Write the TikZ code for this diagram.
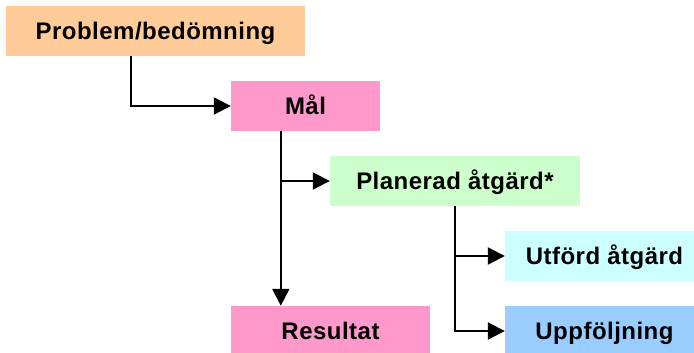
\documentclass[tikz,border=0pt]{standalone}
\usepackage{fontspec}
\setmainfont[LetterSpace=2]{Liberation Sans}
\usetikzlibrary{arrows.meta}
\definecolor{cprob}{HTML}{FFCC99}
\definecolor{cpink}{HTML}{FF99CC}
\definecolor{cgreen}{HTML}{CCFFCC}
\definecolor{ccyan}{HTML}{CCFFFF}
\definecolor{cblue}{HTML}{99CCFF}
\tikzset{
  boxnode/.style={rectangle, inner sep=0pt, text height=17pt, text depth=0pt,
    minimum height=50pt, font=\fontsize{24}{28}\selectfont\bfseries},
  conn/.style={line width=2pt, -{Triangle[length=17pt,width=17pt]}}
}
\begin{document}
\begin{tikzpicture}[x=1pt,y=-1pt]
\useasboundingbox (0,0) rectangle (694,353);
\clip (0,0) rectangle (694,353);
\node[boxnode, fill=cprob, minimum width=299pt] (prob) at (155.5,31) {Problem/bedömning};
\node[boxnode, fill=cpink, minimum width=149pt] (mal) at (305.5,106) {Mål};
\node[boxnode, fill=cgreen, minimum width=250pt] (plan) at (455,181) {Planerad åtgärd*};
\node[boxnode, fill=ccyan, minimum width=199pt] (utf) at (604.5,256) {Utförd åtgärd};
\node[boxnode, fill=cblue, minimum width=199pt] (upp) at (604.5,331) {Uppföljning};
\node[boxnode, fill=cpink, minimum width=199pt] (res) at (330.5,331) {Resultat};
% connectors
\draw[conn] (prob.south west) ++(125,0) |- (mal.west);
\path (mal.south west) ++(50,0) coordinate (m1);
\draw[conn] (m1) -- (m1 |- res.north);
\draw[conn] (m1 |- plan.west) -- (plan.west);
\draw[conn] (plan.south) |- (upp.west);
\draw[conn] (plan.south |- utf.west) -- (utf.west);
\end{tikzpicture}
\end{document}
